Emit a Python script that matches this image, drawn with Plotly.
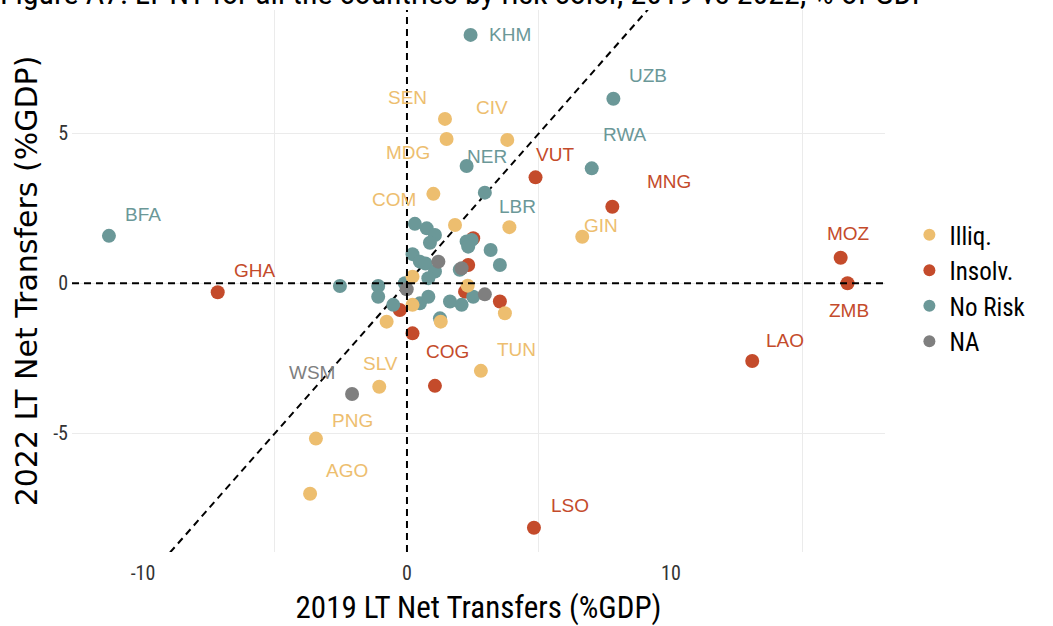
import plotly.graph_objects as go

# ---- data (2019 vs 2022 LT net transfers, % GDP) ----
illiq_names = ["SEN", "MDG", "CIV", "COM", "GIN", "TUN", "SLV", "PNG", "AGO",
               "", "", "", "", "", "", "", ""]
illiq_x = [1.44, 1.50, 3.80, 1.00, 6.64, 2.80, -1.05, -3.45, -3.67,
           1.82, 3.88, 0.21, 2.30, 0.21, -0.77, 3.71, 1.28]
illiq_y = [5.48, 4.81, 4.78, 2.98, 1.55, -2.92, -3.45, -5.18, -7.02,
           1.94, 1.87, 0.22, -0.08, -0.72, -1.28, -1.00, -1.28]

insolv_names = ["VUT", "MNG", "MOZ", "ZMB", "LAO", "LSO", "COG", "GHA",
                "", "", "", "", "", ""]
insolv_x = [4.87, 7.78, 16.43, 16.69, 13.08, 4.81, 1.06, -7.17,
            2.51, 2.32, 2.20, 3.52, -0.27, 0.21]
insolv_y = [3.53, 2.55, 0.85, 0.00, -2.59, -8.15, -3.42, -0.30,
            1.50, 0.61, -0.28, -0.61, -0.89, -1.67]

norisk_names = ["KHM", "UZB", "RWA", "NER", "LBR", "BFA"] + [""] * 26
norisk_x = [2.41, 7.82, 7.00, 2.26, 2.95, -11.29,
            -2.54, 0.30, 0.75, 1.06, 0.87, 2.26, 2.45, 2.32, 3.17, 3.52,
            0.21, 0.49, 0.70, 1.06, 0.81, -1.09, -1.09, -0.08, -0.52, 0.49,
            0.81, 1.63, 2.07, 2.51, 1.25, 2.00]
norisk_y = [8.28, 6.15, 3.83, 3.91, 3.02, 1.58,
            -0.09, 1.98, 1.83, 1.61, 1.35, 1.39, 1.44, 1.22, 1.11, 0.61,
            0.97, 0.72, 0.66, 0.39, 0.17, -0.09, -0.45, 0.00, -0.72, -0.67,
            -0.45, -0.61, -0.72, -0.45, -1.17, 0.45]

na_names = ["WSM", "", "", "", ""]
na_x = [-2.08, 1.19, 2.07, -0.01, 2.95]
na_y = [-3.69, 0.72, 0.50, -0.20, -0.37]

# label offsets in pixels (repel-style placement)
label_offsets = {
    "KHM": (39, 0), "UZB": (35, -23), "RWA": (33, -34), "VUT": (19, -23),
    "MNG": (57, -25), "GIN": (19, -11), "LBR": (33, 14), "MOZ": (8, -24),
    "ZMB": (1, 27), "LAO": (33, -20), "LSO": (36, -22), "TUN": (36, -21),
    "COG": (13, -34), "BFA": (34, -21), "GHA": (37, -22), "WSM": (-40, -21),
    "PNG": (37, -18), "AGO": (37, -23), "SLV": (1, -23), "SEN": (-37, -21),
    "MDG": (-39, 14), "CIV": (-15, -32), "NER": (20, -9), "COM": (-39, 6),
}

C_ILLIQ = "#EDBE6F"
C_INSOLV = "#C44B2B"
C_NORISK = "#6B9898"
C_NA = "#7F7F7F"

groups = [
    ("Insolv.", insolv_names, insolv_x, insolv_y, C_INSOLV, 2),
    ("No Risk", norisk_names, norisk_x, norisk_y, C_NORISK, 3),
    ("Illiq.", illiq_names, illiq_x, illiq_y, C_ILLIQ, 1),
    ("NA", na_names, na_x, na_y, C_NA, 4),
]

AX_FONT = "Liberation Sans Narrow, Roboto Condensed, Roboto, sans-serif"
DASH = dict(color="black", width=2, dash="7px,5px")

fig = go.Figure()

# reference lines
fig.add_trace(go.Scatter(x=[-30, 30], y=[-30, 30], mode="lines", line=DASH,
                         showlegend=False, hoverinfo="skip"))
fig.add_hline(y=0, line=DASH)
fig.add_vline(x=0, line=DASH)

annotations = []
for name, names, xs, ys, col, rank in groups:
    fig.add_trace(go.Scatter(
        x=xs, y=ys, mode="markers", name=name, legendrank=rank,
        marker=dict(color=col, size=14, line=dict(width=0)),
        text=names, hoverinfo="text+x+y"))
    for n, xv, yv in zip(names, xs, ys):
        if n:
            ax, ay = label_offsets[n]
            annotations.append(dict(
                x=xv, y=yv, xref="x", yref="y", text=n, showarrow=True,
                arrowcolor="rgba(0,0,0,0)", ax=ax, ay=ay,
                font=dict(family="Liberation Sans, Arial, sans-serif",
                          size=19, color=col)))

fig.update_layout(
    width=1053, height=626,
    paper_bgcolor="white", plot_bgcolor="white",
    margin=dict(l=72, r=168, t=10, b=74),
    title=dict(text="Figure A7: LT NT for all the countries by risk color, 2019 vs 2022, % of GDP",
               x=0.0, xanchor="left", xref="container",
               y=0.993, yanchor="bottom", yref="container",
               font=dict(family=AX_FONT, size=32, color="black")),
    annotations=annotations,
    legend=dict(x=1.03, xanchor="left", y=0.487, yanchor="middle",
                font=dict(family=AX_FONT, size=25, color="black"),
                itemsizing="constant", tracegroupgap=0, bgcolor="rgba(0,0,0,0)"),
    showlegend=True,
)

fig.update_xaxes(
    range=[-12.69, 18.11], tickvals=[-10, 0, 10], ticktext=["-10", "0", "10"],
    showgrid=False, zeroline=False, showline=False, ticks="", automargin=False,
    ticklabelstandoff=7,
    minor=dict(tickvals=[-5, 5, 15], showgrid=True, gridcolor="#EBEBEB", gridwidth=1.3),
    tickfont=dict(family=AX_FONT, size=20, color="#333333"),
    title=dict(text="2019 LT Net Transfers (%GDP)", standoff=12,
               font=dict(family=AX_FONT, size=31, color="black")),
)
fig.update_yaxes(
    range=[-8.96, 9.11], tickvals=[-5, 0, 5], ticktext=["-5", "0", "5"],
    showgrid=True, gridcolor="#EBEBEB", gridwidth=1.3,
    zeroline=False, showline=False, ticks="", automargin=False,
    ticklabelstandoff=3,
    tickfont=dict(family=AX_FONT, size=20, color="#333333"),
    title=dict(text="2022 LT Net Transfers (%GDP)", standoff=6,
               font=dict(family="DejaVu Sans, sans-serif", size=30, color="black")),
)

fig.write_html("out.html", config={"displayModeBar": False},
               post_script="document.body.style.margin='0';document.body.style.overflow='hidden';")
